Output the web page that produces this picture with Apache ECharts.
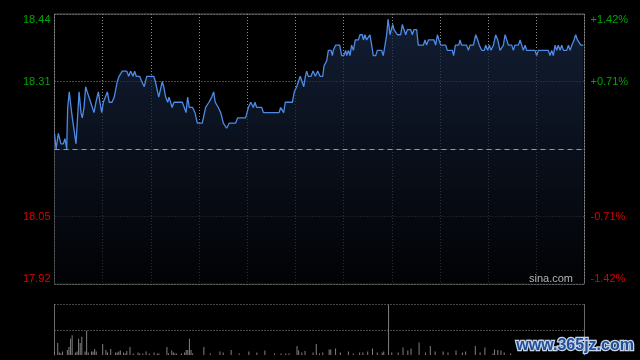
<!DOCTYPE html>
<html><head><meta charset="utf-8">
<script src="https://cdn.jsdelivr.net/npm/echarts@6/dist/echarts.min.js"></script>
<style>html,body{margin:0;padding:0;background:#000;}#c{width:640px;height:360px;}</style>
</head><body><div id="c"></div>
<script>
// minutes since open (HK session: 330 trading minutes) and price
const minutes = [0,1,2.4,4,5.5,6.5,7.6,8.2,9.2,10.3,11.1,12.1,13.4,15.3,16.5,17.3,18.4,19.4,20.4,21.5,22.5,23.3,24.6,25.8,27.3,28.3,29.4,30.4,31.6,32.9,34.1,35.8,37.2,38.1,39.1,40.2,42.2,45,46.2,47.4,48.9,49.9,50.9,53,54.3,55.9,57.4,61.8,62.8,64.9,65.9,67.1,68,69.2,70.5,71.3,72.3,73.2,74.4,79.6,80.8,81.9,82.9,83.9,86,87.5,88.9,92,94.1,96.2,97.9,99.1,100.1,102,103.5,105.1,107.2,108.8,112.8,114.1,119,120.7,122.2,123.8,124.8,125.9,129,130.1,139.8,140.8,142.7,143.7,148.1,149.3,150.8,152,153,154.1,155.2,156.2,157,158,159.7,161,162.4,163.9,165.3,167,167.8,169,169.5,170.5,172.2,173,173.6,175,176,177.6,178.8,180.2,181.3,182,183,184,185,186.1,187.3,189.2,190.2,191.7,192.3,193.3,194.3,195.4,196.4,197.5,198.5,200,201,203.7,204.7,205.8,206.8,207.7,208.9,209.9,210.6,211.4,212.6,213.5,215.5,216.6,217.6,218.7,219.7,221.8,222.8,223.8,225.5,226.5,229.7,230.7,231.7,232.8,236.3,237.3,238.4,239.4,240.5,243.6,244.6,247.7,248.5,249.6,251.7,252.5,253.5,256.6,257.7,258.7,260.8,262.3,263.5,264.5,266,267.6,268.5,269.7,270.8,271.8,273.3,274.7,276,277.4,278.5,279.5,280.5,281.6,282.6,284.7,285.7,286.7,288.8,289.9,290.9,291.9,293,294,299.2,300.2,301.3,307.5,308.5,309.6,310.6,311.7,312.7,313.7,314.8,315.8,316.9,318.9,320,321,322.1,323.5,324.5,325.6,326.6,327.7,329.3];
const prices = [18.21,18.18,18.21,18.19,18.19,18.20,18.18,18.26,18.29,18.26,18.24,18.24,18.19,18.29,18.25,18.24,18.26,18.30,18.29,18.29,18.27,18.27,18.25,18.27,18.29,18.27,18.25,18.27,18.27,18.29,18.27,18.27,18.28,18.28,18.31,18.32,18.33,18.33,18.32,18.33,18.32,18.33,18.32,18.32,18.31,18.30,18.32,18.32,18.31,18.28,18.28,18.31,18.30,18.28,18.27,18.28,18.27,18.26,18.27,18.27,18.26,18.25,18.28,18.26,18.26,18.25,18.23,18.23,18.26,18.27,18.28,18.29,18.27,18.26,18.25,18.23,18.22,18.23,18.23,18.24,18.24,18.26,18.27,18.26,18.27,18.26,18.26,18.25,18.25,18.26,18.25,18.27,18.27,18.29,18.30,18.30,18.32,18.32,18.30,18.32,18.33,18.32,18.32,18.33,18.32,18.33,18.32,18.32,18.34,18.34,18.35,18.37,18.37,18.36,18.37,18.38,18.38,18.38,18.36,18.36,18.37,18.36,18.37,18.36,18.38,18.37,18.39,18.39,18.40,18.40,18.39,18.40,18.39,18.39,18.40,18.38,18.36,18.36,18.37,18.37,18.36,18.38,18.40,18.43,18.40,18.40,18.42,18.41,18.41,18.40,18.40,18.42,18.41,18.40,18.41,18.41,18.40,18.41,18.41,18.38,18.38,18.39,18.38,18.39,18.39,18.38,18.40,18.39,18.38,18.38,18.37,18.37,18.36,18.38,18.38,18.39,18.38,18.38,18.37,18.38,18.38,18.40,18.39,18.38,18.37,18.37,18.38,18.37,18.38,18.37,18.38,18.40,18.39,18.37,18.37,18.38,18.40,18.39,18.38,18.38,18.37,18.38,18.38,18.39,18.38,18.37,18.38,18.37,18.37,18.36,18.37,18.37,18.36,18.37,18.36,18.38,18.37,18.38,18.37,18.38,18.37,18.37,18.38,18.37,18.38,18.39,18.40,18.39,18.39,18.38,18.38];
// volume (relative to the day's largest bar = 100)
const volMinutes = [0,2,3,4,5,8,9,10,11,13,14,15,16,17,19,20,21,23,24,25,26,30,32,33,35,38,39,40,41,43,44,45,47,49,52,53,55,57,59,62,64,65,70,71,73,74,75,76,79,81,82,83,84,85,86,93,97,103,105,110,115,121,126,131,137,141,144,146,151,152,154,156,161,163,165,167,171,172,175,178,183,186,190,192,195,198,201,204,205,208,210,214,217,220,222,227,231,234,237,242,245,250,254,256,262,265,268,273,274,276,278,280,284];
const volumes = [7,24,5,3,7,10,16,32,39,5,7,32,24,36,7,48,5,7,7,12,7,22,10,5,12,5,5,7,9,5,3,8,16,3,5,3,3,7,3,5,3,3,16,3,9,5,3,3,3,5,10,10,32,10,3,16,3,7,5,10,3,7,5,9,3,3,3,3,18,9,5,8,5,22,3,5,11,11,13,5,7,3,5,5,7,13,5,5,7,100,5,5,15,9,13,25,5,18,7,7,5,9,5,7,18,5,15,3,11,10,9,5,3];
const prevClose = 18.18;
const priceTicks = [17.92, 18.05, 18.18, 18.31, 18.44];
const leftLabels = ['17.92', '18.05', '', '18.31', '18.44'];
const pctLabels = ['-1.42%', '-0.71%', '', '+0.71%', '+1.42%'];

const lineData = minutes.map((m, i) => [m, prices[i]]);
const volData = volMinutes.map((m, i) => [m, volumes[i]]);
const tickIdx = v => priceTicks.findIndex(t => Math.abs(t - v) < 0.001);
const tickColor = v => v > prevClose + 0.001 ? '#00a400' : '#dd0000';

const chart = echarts.init(document.getElementById('c'), null, {renderer: 'canvas'});
const gridStyle = {type: [1, 2], color: '#8c8c8c', width: 1};
chart.setOption({
  backgroundColor: '#000',
  animation: false,
  grid: [
    {left: 54.5, right: 55.5, top: 14, height: 270, show: true, borderColor: '#5c5c5c', borderWidth: 1, backgroundColor: 'transparent'},
    {left: 54.5, right: 55.5, top: 304.5, height: 50.5}
  ],
  xAxis: [
    {gridIndex: 0, type: 'value', min: 0, max: 330, interval: 30, axisLine: {show: false}, axisTick: {show: false}, axisLabel: {show: false}, splitLine: {show: true, lineStyle: gridStyle}},
    {gridIndex: 1, type: 'value', min: 0, max: 330, axisLine: {show: false}, axisTick: {show: false}, axisLabel: {show: false}, splitLine: {show: false}}
  ],
  yAxis: [
    {gridIndex: 0, type: 'value', min: 17.92, max: 18.44, interval: 0.13, position: 'left',
      axisLine: {show: false}, axisTick: {show: false},
      splitLine: {show: true, lineStyle: gridStyle},
      axisLabel: {show: true, margin: 4, fontSize: 11, fontFamily: 'Liberation Sans, Arial, sans-serif',
        verticalAlignMinLabel: 'bottom', verticalAlignMaxLabel: 'top',
        formatter: v => { const i = tickIdx(v); return i >= 0 ? leftLabels[i] : ''; },
        color: v => tickColor(v)}},
    {gridIndex: 0, type: 'value', min: 17.92, max: 18.44, interval: 0.13, position: 'right',
      axisLine: {show: false}, axisTick: {show: false}, splitLine: {show: false},
      axisLabel: {show: true, margin: 6, fontSize: 11, fontFamily: 'Liberation Sans, Arial, sans-serif',
        verticalAlignMinLabel: 'bottom', verticalAlignMaxLabel: 'top',
        formatter: v => { const i = tickIdx(v); return i >= 0 ? pctLabels[i] : ''; },
        color: v => tickColor(v)}},
    {gridIndex: 1, type: 'value', min: 0, max: 100, interval: 50, position: 'left',
      axisLine: {show: true, lineStyle: {color: '#6a6a6a'}}, axisTick: {show: false}, axisLabel: {show: false},
      splitLine: {show: true, showMinLine: false, lineStyle: gridStyle}},
    {gridIndex: 1, type: 'value', min: 0, max: 100, interval: 50, position: 'right',
      axisLine: {show: true, lineStyle: {color: '#6a6a6a'}}, axisTick: {show: false}, axisLabel: {show: false}, splitLine: {show: false}}
  ],
  series: [
    {type: 'line', xAxisIndex: 0, yAxisIndex: 0, data: lineData, showSymbol: false, symbol: 'none',
      lineStyle: {color: '#4d8ae6', width: 1.3},
      areaStyle: {origin: 'start', color: new echarts.graphic.LinearGradient(0, 0, 0, 1, [
        {offset: 0, color: 'rgba(26,42,72,1)'}, {offset: 1, color: 'rgba(2,3,6,1)'}])},
      markLine: {silent: true, symbol: 'none', label: {show: false},
        lineStyle: {color: '#9a9a9a', type: [5, 4], width: 1}, data: [{yAxis: prevClose}]},
      z: 3},
    {type: 'bar', xAxisIndex: 1, yAxisIndex: 2, data: volData, barWidth: 1, itemStyle: {color: '#808080'}, barGap: '-100%'}
  ],
  graphic: [
    {type: 'text', right: 67, top: 273, style: {text: 'sina.com', fill: '#b4b4b4', font: '11px Liberation Sans, Arial, sans-serif'}, z: 10},
    {type: 'text', left: 515, top: 336, style: {text: 'www.365jz.com', fill: '#20509a', stroke: '#c8d4e8', lineWidth: 2.5, font: 'bold 16px Liberation Sans, Arial, sans-serif'}, z: 10}
  ]
});
</script></body></html>
